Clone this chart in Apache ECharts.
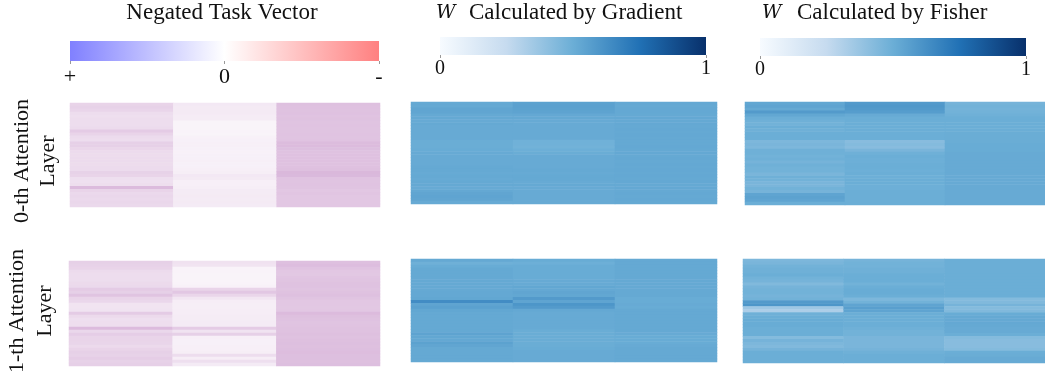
<!DOCTYPE html>
<html><head><meta charset="utf-8">
<style>html,body{margin:0;padding:0;background:#fff}#c{width:1045px;height:383px;filter:blur(0.4px)}</style>
<script src="https://cdn.jsdelivr.net/npm/echarts@6/dist/echarts.min.js"></script>
</head><body><div id="c"></div>
<script>
const taskL0A=[.38,.4,.37,.3,.28,.3,.3,.3,.32,.46,.38,.32,.3,.42,.42,.36,.32,.31,.32,.32,.31,.32,.32,.4,.38,.28,.27,.29,.6,.38,.34,.35,.34,.35,.34];
const taskL0B=[.2,.19,.19,.19,.17,.17,.1,.1,.1,.11,.1,.12,.13,.14,.14,.13,.12,.13,.13,.14,.13,.13,.14,.15,.2,.19,.14,.14,.15,.18,.18,.19,.18,.19,.18];
const taskL0C=[.56,.55,.54,.55,.53,.54,.52,.53,.52,.52,.53,.52,.53,.59,.6,.57,.54,.55,.55,.55,.54,.55,.56,.63,.62,.53,.52,.53,.52,.5,.51,.5,.5,.5,.5];
const taskL1A=[.42,.4,.38,.32,.3,.3,.3,.33,.34,.46,.42,.52,.38,.35,.24,.24,.25,.46,.33,.28,.29,.29,.6,.35,.44,.38,.38,.37,.33,.38,.42,.4,.44,.4,.42];
const taskL1B=[.26,.24,.11,.11,.1,.1,.1,.11,.12,.38,.5,.36,.22,.16,.15,.15,.16,.16,.17,.17,.18,.18,.46,.25,.42,.14,.13,.13,.14,.14,.15,.3,.16,.28,.18];
const taskL1C=[.56,.58,.53,.5,.49,.51,.52,.54,.54,.52,.54,.56,.52,.5,.5,.49,.5,.6,.56,.54,.52,.53,.54,.54,.56,.54,.56,.57,.56,.57,.58,.57,.57,.56,.57];
const gradL0A=[.52,.52,.535,.535,.52,.52,.515,.52,.515,.515,.515,.515,.515,.505,.505,.505,.51,.515,.515,.515,.515,.515,.52,.52,.515,.52,.515,.52,.52,.515,.525,.535,.54,.535,.515];
const gradL0B=[.55,.555,.55,.545,.525,.52,.515,.515,.515,.515,.515,.515,.515,.485,.485,.48,.495,.505,.515,.515,.515,.515,.515,.52,.515,.52,.52,.515,.52,.515,.515,.515,.515,.515,.515];
const gradL0C=[.525,.52,.525,.525,.52,.525,.52,.525,.52,.525,.52,.525,.52,.52,.52,.525,.52,.525,.52,.525,.52,.525,.52,.525,.52,.525,.52,.525,.52,.525,.52,.525,.52,.525,.52];
const gradL1A=[.52,.49,.51,.52,.52,.52,.52,.52,.52,.52,.52,.525,.525,.53,.64,.54,.555,.53,.52,.52,.52,.52,.52,.52,.52,.545,.53,.525,.55,.535,.52,.52,.52,.52,.52];
const gradL1B=[.51,.495,.51,.51,.51,.51,.51,.515,.515,.53,.525,.535,.53,.58,.54,.6,.58,.525,.515,.515,.515,.515,.515,.515,.505,.505,.505,.505,.505,.505,.51,.515,.515,.515,.515];
const gradL1C=[.52,.52,.52,.52,.52,.52,.52,.52,.52,.52,.52,.52,.52,.51,.51,.515,.51,.52,.52,.52,.52,.52,.52,.52,.52,.515,.51,.51,.51,.515,.52,.52,.52,.52,.52];
const fishL0A=[.53,.54,.52,.58,.53,.5,.49,.48,.5,.49,.5,.5,.5,.45,.46,.45,.49,.49,.48,.49,.47,.49,.48,.48,.46,.49,.48,.46,.46,.48,.47,.54,.55,.54,.5];
const fishL0B=[.58,.59,.58,.57,.515,.5,.5,.5,.5,.5,.5,.5,.5,.42,.43,.42,.46,.49,.5,.495,.495,.5,.5,.495,.5,.495,.5,.5,.495,.495,.5,.5,.5,.5,.5];
const fishL0C=[.47,.48,.475,.48,.49,.5,.5,.5,.5,.5,.505,.505,.505,.505,.51,.51,.51,.515,.515,.515,.515,.515,.515,.515,.515,.515,.515,.515,.515,.515,.515,.515,.515,.515,.515];
const fishL1A=[.45,.46,.48,.49,.49,.5,.48,.47,.44,.47,.48,.48,.47,.48,.58,.6,.36,.32,.49,.5,.51,.51,.51,.5,.5,.5,.43,.47,.45,.44,.47,.5,.5,.5,.5];
const fishL1B=[.47,.48,.48,.49,.49,.5,.5,.5,.48,.5,.51,.51,.5,.45,.48,.54,.56,.54,.5,.5,.5,.5,.5,.49,.48,.48,.46,.46,.46,.46,.47,.49,.5,.5,.5];
const fishL1C=[.5,.5,.5,.5,.5,.5,.5,.5,.5,.5,.5,.5,.5,.43,.44,.47,.43,.44,.51,.52,.52,.525,.52,.515,.515,.5,.43,.42,.42,.42,.43,.5,.505,.515,.515];
const panels=[[taskL0A,taskL0B,taskL0C],[taskL1A,taskL1B,taskL1C],[gradL0A,gradL0B,gradL0C],[gradL1A,gradL1B,gradL1C],[fishL0A,fishL0B,fishL0C],[fishL1A,fishL1B,fishL1C]];
const titleTask="Negated Task Vector",titleGrad="Calculated by Gradient",titleFish="Calculated by Fisher";
const rowNames=["0-th Attention\nLayer","1-th Attention\nLayer"];
const boxes=[[70,103,310,104],[69,261,311,105],[411,102,306,102],[411,259,306,103],[745,102,300,103],[743,259,302,104]];
const barBoxes=[[70,41,309,20],[440,37,266,18],[760,38,266,18]];
const blues=['#f7fbff','#c6dbef','#6baed6','#2171b5','#08306b'];
const taskRamp=['#8080ff','#ffffff','#ff8080'];
const barRamps=[taskRamp,blues,blues];
const barLabels=[['+','0','-'],['0','1'],['0','1']];
const serif='"Liberation Serif"';
const grid=[],xAxis=[],yAxis=[],series=[];
boxes.forEach((b,i)=>{
  grid.push({left:b[0],top:b[1],width:b[2],height:b[3]});
  xAxis.push({type:'category',gridIndex:i,show:false,data:['a','b','c']});
  yAxis.push({type:'category',gridIndex:i,show:false,inverse:true,data:panels[i][0].map((_,k)=>k)});
  const d=[];panels[i].forEach((col,x)=>col.forEach((v,y)=>d.push([x,y,v])));
  series.push({type:'heatmap',xAxisIndex:i,yAxisIndex:i,data:d,silent:true,progressive:0,itemStyle:{borderWidth:0},emphasis:{disabled:true}});
});
barBoxes.forEach((b,k)=>{
  const i=grid.length, lab=barLabels[k], ramp=barRamps[k];
  grid.push({left:b[0],top:b[1],width:b[2],height:b[3]});
  xAxis.push({type:'value',gridIndex:i,min:0,max:lab.length-1,interval:1,position:'bottom',
    axisLine:{show:false},splitLine:{show:false},axisTick:{show:true,length:3,lineStyle:{color:'#999',width:1}},
    axisLabel:{show:true,hideOverlap:false,showMinLabel:true,showMaxLabel:true,margin:k==0?5:4,fontFamily:serif,fontSize:k==0?22:20,color:'#111',formatter:v=>lab[v]}});
  yAxis.push({type:'category',gridIndex:i,show:false,data:['bar']});
  series.push({type:'bar',xAxisIndex:i,yAxisIndex:i,barWidth:'100%',silent:true,data:[lab.length-1],
    itemStyle:{color:{type:'linear',x:0,y:0,x2:1,y2:0,colorStops:ramp.map((c,j)=>({offset:j/(ramp.length-1),color:c}))}}});
});
const titleStyle={fontFamily:serif,fontSize:23,fontWeight:'normal',color:'#111'};
const wStyle={fontFamily:'"DejaVu Serif"',fontStyle:'italic',fontSize:19,fontWeight:'normal',color:'#111'};
const option={animation:false,grid,xAxis,yAxis,series,
  title:[
   {text:titleTask,left:222,top:1,padding:0,textAlign:'center',textStyle:titleStyle},
   {text:titleGrad,left:469,top:1,padding:0,textStyle:titleStyle},
   {text:titleFish,left:797,top:1,padding:0,textStyle:titleStyle},
   {text:'W',left:436,top:4,padding:0,textStyle:wStyle},
   {text:'W',left:762,top:4,padding:0,textStyle:wStyle}
  ],
  visualMap:[
   {type:'continuous',show:false,min:0,max:1,seriesIndex:[0,1],inRange:{color:['#ffffff','#c48ec6']}},
   {type:'continuous',show:false,min:0,max:1,seriesIndex:[2,3,4,5],inRange:{color:blues}}
  ],
  graphic:[
   {type:'text',x:35,y:161,rotation:Math.PI/2,style:{text:rowNames[0],fontFamily:serif,fontSize:22,lineHeight:26,fill:'#111',align:'center',verticalAlign:'middle'}},
   {type:'text',x:31,y:311,rotation:Math.PI/2,style:{text:rowNames[1],fontFamily:serif,fontSize:22,lineHeight:28,fill:'#111',align:'center',verticalAlign:'middle'}}
  ]};
const chart=echarts.init(document.getElementById('c'),null,{renderer:'canvas'});
chart.setOption(option);
</script></body></html>
